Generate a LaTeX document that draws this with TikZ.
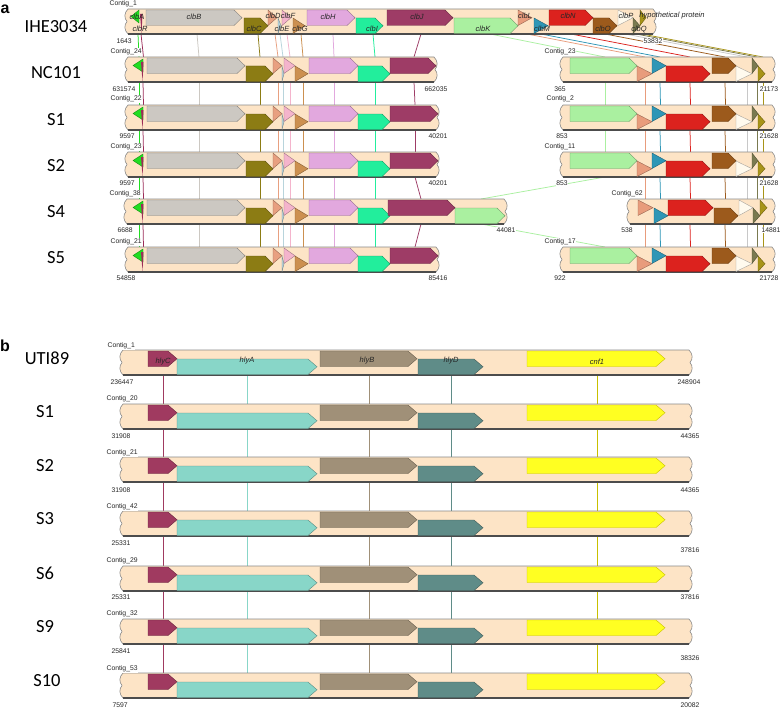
\documentclass[tikz,border=0pt]{standalone}
\usepackage{fontspec}
\setmainfont{Carlito}
\setsansfont{Liberation Sans}
\definecolor{barfill}{HTML}{FDE4C6}
\definecolor{barline}{HTML}{8A8A8A}
\definecolor{cA}{HTML}{22DD22}
\definecolor{cR}{HTML}{9C2C58}
\definecolor{cB}{HTML}{CCC8C2}
\definecolor{cC}{HTML}{8C7C14}
\definecolor{cD}{HTML}{E8A080}
\definecolor{cE}{HTML}{B8D4DC}
\definecolor{cF}{HTML}{F4B4CC}
\definecolor{cG}{HTML}{CC9050}
\definecolor{cH}{HTML}{E2A8DE}
\definecolor{cI}{HTML}{22EE9C}
\definecolor{cJ}{HTML}{9E3C66}
\definecolor{cK}{HTML}{AAF0A0}
\definecolor{cL}{HTML}{E89C7C}
\definecolor{cM}{HTML}{2E96B6}
\definecolor{cN}{HTML}{DC221E}
\definecolor{cO}{HTML}{9C5A1C}
\definecolor{cP}{HTML}{FFFAEE}
\definecolor{cPl}{HTML}{C8C8C8}
\definecolor{cQ}{HTML}{7A7A50}
\definecolor{cY}{HTML}{A89418}
\definecolor{hC}{HTML}{A03A60}
\definecolor{hA}{HTML}{88D6C8}
\definecolor{hB}{HTML}{A09078}
\definecolor{hD}{HTML}{5F8C88}
\definecolor{cnf}{HTML}{FFFF22}
\definecolor{cnfl}{HTML}{C8C000}
\tikzset{
  barshape/.style={fill=barfill,draw=barline,line width=0.6pt},
  barbase/.style={draw=black!70,line width=1.1pt},
  genebox/.style={line width=0.4pt},
  cnx/.style={line width=0.75pt},
  rowlab/.style={font=\fontsize{18.5}{20}\selectfont, inner sep=0pt},
  numlab/.style={font=\sffamily\fontsize{6.8}{7}\selectfont, fill=white, inner sep=0.4pt, text=black!85},
  genelab/.style={font=\sffamily\itshape\fontsize{7.5}{8}\selectfont, inner sep=0pt, text=black!85},
  panlab/.style={font=\sffamily\bfseries\fontsize{16}{18}\selectfont, inner sep=0pt},
}
\newcommand\tiplen{8}
% contig bar: x1, x2, top
\newcommand\ctgbar[3]{%
 \pgfmathsetmacro\ba{#1+3}\pgfmathsetmacro\bb{#2-3}%
 \pgfmathsetmacro\bL{#1-1}\pgfmathsetmacro\bR{#2+1}%
 \pgfmathsetmacro\bl{#1+2}\pgfmathsetmacro\br{#2-2}%
 \pgfmathsetmacro\yA{#3}\pgfmathsetmacro\yB{#3+4}\pgfmathsetmacro\yC{#3+9}%
 \pgfmathsetmacro\yM{#3+12.5}\pgfmathsetmacro\yD{#3+16}\pgfmathsetmacro\yE{#3+21}%
 \pgfmathsetmacro\yF{#3+25}%
 \filldraw[barshape] (\ba,\yA) -- (\bb,\yA) .. controls (\bR,\yB) and (\bR,\yC) .. (\br,\yM)
   .. controls (\bR,\yD) and (\bR,\yE) .. (\bb,\yF) -- (\ba,\yF)
   .. controls (\bL,\yE) and (\bL,\yD) .. (\bl,\yM) .. controls (\bL,\yC) and (\bL,\yB) .. (\ba,\yA) -- cycle;
 \draw[barbase] (\ba,\yF) -- (\bb,\yF);
}
% gene pointing right: colour, x1, x2, top of bar, offset
\newcommand\gene[5]{%
 \pgfmathsetmacro\gtp{((#3)-(#2))<=17 ? ((#3)-(#2)) : \tiplen}%
 \pgfmathsetmacro\gya{#4+#5}\pgfmathsetmacro\gyb{#4+#5+15.5}%
 \pgfmathsetmacro\gym{#4+#5+7.75}\pgfmathsetmacro\gxs{#3-\gtp}%
 \filldraw[genebox, fill=#1, draw=#1!65!black] (#2,\gya) -- (\gxs,\gya) -- (#3,\gym) -- (\gxs,\gyb) -- (#2,\gyb) -- cycle;
}
% gene pointing left
\newcommand\geneL[5]{%
 \pgfmathsetmacro\gtp{((#3)-(#2))<=17 ? ((#3)-(#2)) : \tiplen}%
 \pgfmathsetmacro\gya{#4+#5}\pgfmathsetmacro\gyb{#4+#5+13}%
 \pgfmathsetmacro\gym{#4+#5+6.5}\pgfmathsetmacro\gxs{#2+\gtp}%
 \filldraw[genebox, fill=#1, draw=#1!65!black] (#3,\gya) -- (\gxs,\gya) -- (#2,\gym) -- (\gxs,\gyb) -- (#3,\gyb) -- cycle;
}
% thin clbR sliver: x, top
\newcommand\clbRs[2]{%
 \pgfmathsetmacro\sa{#2+5}\pgfmathsetmacro\sb{#2+24}\pgfmathsetmacro\xa{#1+2.5}\pgfmathsetmacro\xb{#1+1.5}%
 \fill[cR] (#1,\sa) -- (\xa,\sa) -- (\xb,\sb) -- cycle;
}
\newcommand\cn[5]{\draw[cnx,draw=#1] (#2,#3) -- (#4,#5);}
% standard left-part connectors between two rows (without clbJ / clbK)
\newcommand\lconn[2]{%
 \cn{cA}{139}{#1}{139}{#2}\cn{cR}{143}{#1}{143.5}{#2}\cn{cB}{199}{#1}{199}{#2}
 \cn{cC}{260}{#1}{260}{#2}\cn{cD}{278}{#1}{278}{#2}\cn{cE}{283}{#1}{283}{#2}
 \cn{cF}{290}{#1}{290}{#2}\cn{cG}{303}{#1}{303}{#2}\cn{cH}{334}{#1}{334}{#2}
 \cn{cI}{375}{#1}{375}{#2}}
\newcommand\rconn[2]{%
 \cn{cL}{645}{#1}{645}{#2}\cn{cM}{660}{#1}{660.5}{#2}\cn{cN}{690}{#1}{690.5}{#2}
 \cn{cO}{725}{#1}{725.5}{#2}\cn{cPl}{747}{#1}{747}{#2}\cn{cQ}{757}{#1}{757}{#2}
 \cn{cY}{763}{#1}{763}{#2}}
% standard left part of a clb contig (top)
\newcommand\leftstd[1]{%
 \geneL{cA}{133}{143}{#1}{2}\clbRs{141}{#1}
 \gene{cB}{147}{245}{#1}{1}\gene{cC}{246}{273}{#1}{9}\gene{cD}{273}{282}{#1}{1}
 \gene{cE}{282}{284}{#1}{9}\gene{cF}{284}{295}{#1}{1}\gene{cG}{295}{308}{#1}{9}
 \gene{cH}{309}{358}{#1}{1}\gene{cI}{358}{390}{#1}{9}}
\newcommand\rightstd[1]{%
 \ctgbar{560}{775}{#1}
 \gene{cK}{570}{637}{#1}{1}\gene{cL}{637}{652}{#1}{9}\gene{cM}{652}{666}{#1}{1}
 \gene{cN}{666}{710}{#1}{9}\gene{cO}{712}{736}{#1}{1}\gene{cP}{736}{752}{#1}{9}
 \gene{cQ}{752}{758}{#1}{1}\gene{cY}{758}{765}{#1}{9}}
% panel b row
\newcommand\hlyrow[1]{%
 \ctgbar{120}{692}{#1}
 \gene{hC}{148}{177}{#1}{1}\gene{hA}{177}{317}{#1}{9}\gene{hB}{320}{417}{#1}{1}
 \gene{hD}{418}{483}{#1}{9}\filldraw[genebox,fill=cnf,draw=cnfl] (527,#1+1) -- (656,#1+1) -- (665,#1+8.75) -- (656,#1+16.5) -- (527,#1+16.5) -- cycle;}
\newcommand\hconn[2]{%
 \cn{hC}{163}{#1}{163}{#2}\cn{hA}{247}{#1}{247}{#2}\cn{hB}{369}{#1}{369}{#2}
 \cn{hD}{451}{#1}{451}{#2}\cn{cnfl}{597}{#1}{597}{#2}}
\begin{document}
\begin{tikzpicture}[x=1pt,y=-1pt]
\useasboundingbox (0,0) rectangle (784,709);
\fill[white] (0,0) rectangle (784,709);
% ================= panel a : connectors =================
% IHE3034 -> NC101
\cn{cA}{138}{34}{139}{57}\cn{cR}{141}{34}{143.5}{57}\cn{cB}{197}{34}{199}{57}
\cn{cC}{258}{34}{260}{57}\cn{cD}{275}{34}{278}{57}\cn{cE}{280}{34}{283}{57}
\cn{cF}{287}{34}{290}{57}\cn{cG}{301}{34}{303}{57}\cn{cH}{333}{34}{334}{57}
\cn{cI}{373}{34}{375}{57}\cn{cJ}{421}{34}{414}{57}
\cn{cK}{490}{34}{605}{57}\cn{cL}{527}{34}{645}{57}\cn{cM}{541}{34}{660}{57}
\cn{cN}{571}{34}{690}{57}\cn{cO}{605}{34}{725}{57}\cn{cPl}{625}{34}{747}{57}
\cn{cQ}{636}{34}{757}{57}\cn{cY}{642}{34}{763}{57}
% NC101 -> S1, S1 -> S2
\lconn{82}{105}\cn{cJ}{414}{82}{415}{105}\cn{cK}{605}{82}{605}{105}\rconn{82}{105}
\lconn{130}{152}\cn{cJ}{415}{130}{415}{152}\cn{cK}{605}{130}{605}{152}\rconn{130}{152}
% S2 -> S4
\lconn{177}{199}\cn{cJ}{415}{177}{421}{199}\cn{cK}{605}{177}{481}{199}\rconn{177}{199}
% S4 -> S5
\lconn{224}{247}\cn{cJ}{421}{224}{415}{247}\cn{cK}{481}{224}{605}{247}\rconn{224}{247}
% ================= panel a : contigs =================
% IHE3034
\ctgbar{125}{656}{9}
\geneL{cA}{131}{139}{9}{1}\clbRs{140}{9}
\gene{cB}{146}{242}{9}{1}\gene{cC}{244}{268}{9}{9}\gene{cD}{268}{277}{9}{1}
\gene{cE}{278}{281}{9}{9}\gene{cF}{282}{291}{9}{1}\gene{cG}{293}{305}{9}{9}
\gene{cH}{307}{355}{9}{1}\gene{cI}{356}{383}{9}{9}\gene{cJ}{387}{453}{9}{1}
\gene{cK}{454}{518}{9}{9}\gene{cL}{518}{532}{9}{1}\gene{cM}{534}{548}{9}{9}
\gene{cN}{549}{593}{9}{1}\gene{cO}{593}{617}{9}{9}\gene{cP}{618}{633}{9}{1}
\gene{cQ}{633}{640}{9}{9}\gene{cY}{640}{646}{9}{1}
% NC101, S1, S2, S5
\ctgbar{125}{437}{57}\leftstd{57}\gene{cJ}{390}{436}{57}{1}\rightstd{57}
\ctgbar{125}{439}{105}\leftstd{105}\gene{cJ}{390}{438}{105}{1}\rightstd{105}
\ctgbar{125}{439}{152}\leftstd{152}\gene{cJ}{390}{438}{152}{1}\rightstd{152}
\ctgbar{125}{439}{247}\leftstd{247}\gene{cJ}{390}{438}{247}{1}\rightstd{247}
% S4
\ctgbar{124}{507}{199}\leftstd{199}\gene{cJ}{388}{455}{199}{1}\gene{cK}{455}{505}{199}{9}
\ctgbar{627}{775}{199}
\gene{cL}{638}{653}{199}{1}\gene{cM}{654}{668}{199}{9}\gene{cN}{668}{713}{199}{1}
\gene{cO}{714}{738}{199}{9}\gene{cP}{739}{753}{199}{1}\gene{cQ}{753}{760}{199}{9}
\gene{cY}{760}{767}{199}{1}
% gene labels
\node[genelab] (gA) at (137,17) {clbA};
\node[genelab] (gR) at (140,29) {clbR};
\node[genelab] (gB) at (194,17) {clbB};
\node[genelab] (gC) at (254,29) {clbC};
\node[genelab] (gD) at (273,16) {clbD};
\node[genelab] (gE) at (282,29) {clbE};
\node[genelab] (gF) at (288,16) {clbF};
\node[genelab] (gG) at (300,29) {clbG};
\node[genelab] (gH) at (328,17) {clbH};
\node[genelab] (gI) at (372,29) {clbI};
\node[genelab] (gJ) at (417,17) {clbJ};
\node[genelab] (gK) at (483,29) {clbK};
\node[genelab] (gL) at (525,16) {clbL};
\node[genelab] (gM) at (542,29) {clbM};
\node[genelab] (gN) at (568,16) {clbN};
\node[genelab] (gO) at (603,29) {clbO};
\node[genelab] (gP) at (626,16) {clbP};
\node[genelab] (gQ) at (639,29) {clbQ};
\node[genelab] (gY) at (672,16) {hypothetical protein};
% row labels
\node[panlab] (pa) at (5,9) {a};
\node[rowlab] (nIHE) at (56,27) {IHE3034};
\node[rowlab] (nNC) at (56,73) {NC101};
\node[rowlab] (nS1a) at (56,120) {S1};
\node[rowlab] (nS2a) at (56,166) {S2};
\node[rowlab] (nS4a) at (56,212) {S4};
\node[rowlab] (nS5a) at (56,258) {S5};
% contig names
\node[numlab,anchor=west] (k1) at (109,4) {Contig\_1};
\node[numlab,anchor=west] (k24) at (110,52) {Contig\_24};
\node[numlab,anchor=west] (k22) at (110,99) {Contig\_22};
\node[numlab,anchor=west] (k23a) at (110,147) {Contig\_23};
\node[numlab,anchor=west] (k38) at (109,194) {Contig\_38};
\node[numlab,anchor=west] (k21a) at (110,242) {Contig\_21};
\node[numlab,anchor=west] (k23b) at (544,52) {Contig\_23};
\node[numlab,anchor=west] (k2) at (546,99) {Contig\_2};
\node[numlab,anchor=west] (k11) at (544,147) {Contig\_11};
\node[numlab,anchor=west] (k62) at (611,194) {Contig\_62};
\node[numlab,anchor=west] (k17) at (544,242) {Contig\_17};
% coordinates
\node[numlab,anchor=west] (n1643) at (116,41) {1643};
\node[numlab,anchor=west] (n631574) at (112,89) {631574};
\node[numlab,anchor=west] (n9597a) at (119,136) {9597};
\node[numlab,anchor=west] (n9597b) at (119,183) {9597};
\node[numlab,anchor=west] (n6688) at (117,230) {6688};
\node[numlab,anchor=west] (n54858) at (116,278) {54858};
\node[numlab] (n53832) at (653,41) {53832};
\node[numlab] (n662035) at (436,89) {662035};
\node[numlab] (n40201a) at (438,136) {40201};
\node[numlab] (n40201b) at (438,183) {40201};
\node[numlab] (n44081) at (506,230) {44081};
\node[numlab] (n85416) at (438,278) {85416};
\node[numlab] (n365) at (560,89) {365};
\node[numlab] (n853a) at (562,136) {853};
\node[numlab] (n853b) at (562,183) {853};
\node[numlab] (n538) at (627,230) {538};
\node[numlab] (n922) at (560,278) {922};
\node[numlab] (n21173) at (769,89) {21173};
\node[numlab] (n21628a) at (769,136) {21628};
\node[numlab] (n21628b) at (769,183) {21628};
\node[numlab] (n14881) at (771,230) {14881};
\node[numlab] (n21728) at (769,278) {21728};
% ================= panel b =================
\renewcommand\tiplen{9}
\hconn{375}{404}\hconn{429}{457}\hconn{482}{511}\hconn{536}{566}\hconn{591}{619}\hconn{644}{673}
\hlyrow{350}\hlyrow{404}\hlyrow{457}\hlyrow{511}\hlyrow{566}\hlyrow{619}\hlyrow{673}
\node[genelab] (bC) at (163,362) {hlyC};
\node[genelab] (bA) at (247,361) {hlyA};
\node[genelab] (bB) at (367,361) {hlyB};
\node[genelab] (bD) at (451,361) {hlyD};
\node[genelab] (bN) at (597,362) {cnf1};
\node[panlab] (pb) at (5,346) {b};
\node[rowlab] (uUTI) at (47,358) {UTI89};
\node[rowlab] (uS1) at (45,412) {S1};
\node[rowlab] (uS2) at (45,466) {S2};
\node[rowlab] (uS3) at (45,519) {S3};
\node[rowlab] (uS6) at (45,573) {S6};
\node[rowlab] (uS9) at (45,627) {S9};
\node[rowlab] (uS10) at (47,681) {S10};
\node[numlab,anchor=west] (m1) at (107,346) {Contig\_1};
\node[numlab,anchor=west] (m20) at (106,399) {Contig\_20};
\node[numlab,anchor=west] (m21) at (106,453) {Contig\_21};
\node[numlab,anchor=west] (m42) at (106,507) {Contig\_42};
\node[numlab,anchor=west] (m29) at (106,561) {Contig\_29};
\node[numlab,anchor=west] (m32) at (106,614) {Contig\_32};
\node[numlab,anchor=west] (m53) at (106,669) {Contig\_53};
\node[numlab,anchor=west] (q1) at (110,382) {236447};
\node[numlab,anchor=west] (q2) at (111,436) {31908};
\node[numlab,anchor=west] (q3) at (111,490) {31908};
\node[numlab,anchor=west] (q4) at (111,543) {25331};
\node[numlab,anchor=west] (q5) at (111,597) {25331};
\node[numlab,anchor=west] (q6) at (111,651) {25841};
\node[numlab,anchor=west] (q7) at (112,705) {7597};
\node[numlab] (e1) at (689,382) {248904};
\node[numlab] (e2) at (690,436) {44365};
\node[numlab] (e3) at (690,490) {44365};
\node[numlab] (e4) at (690,550) {37816};
\node[numlab] (e5) at (690,597) {37816};
\node[numlab] (e6) at (690,658) {38326};
\node[numlab] (e7) at (690,705) {20082};
\end{tikzpicture}
\end{document}
